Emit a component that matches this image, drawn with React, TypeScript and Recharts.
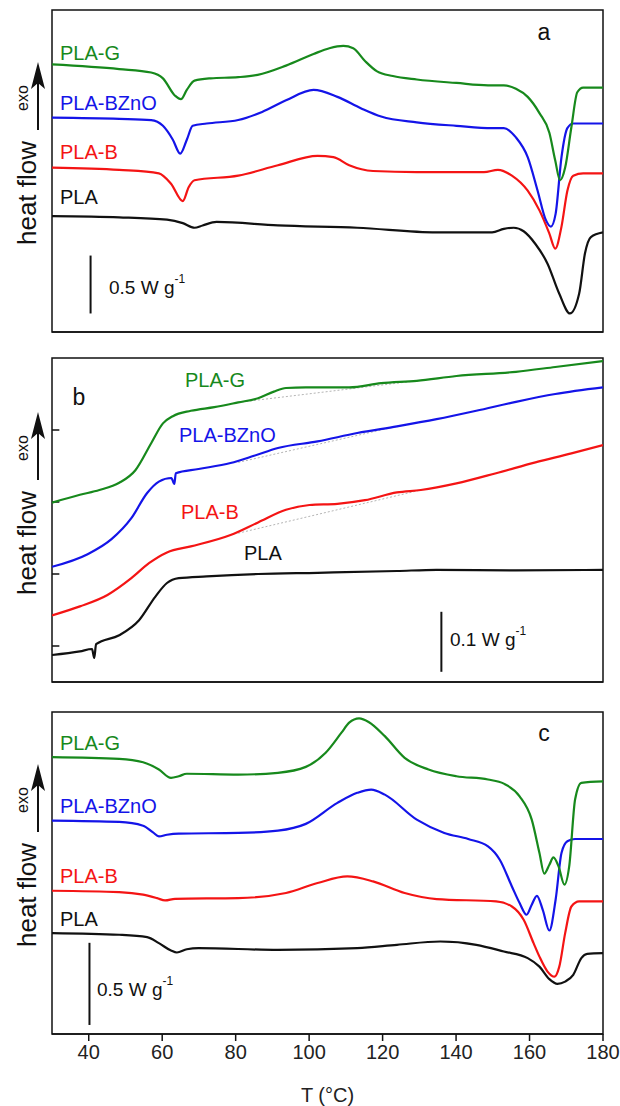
import React from "react";
import { LineChart, Line, XAxis, YAxis, ReferenceArea, ReferenceLine } from "recharts";

type Pt = [number, number];

const xTicks = [40, 60, 80, 100, 120, 140, 160, 180];

// panel a — heat flow (W/g, curves shifted)
const aG: Pt[] = [[30,2.31],[48.3,2.27],[57,2.24],[60.2,2.19],[63.5,2.04],[65.1,2.01],[66.7,2.09],[68.8,2.17],[73.2,2.19],[80.7,2.20],[86,2.22],[93.7,2.30],[101.2,2.40],[105.5,2.45],[109.3,2.47],[112,2.45],[115.2,2.34],[118.5,2.25],[122.8,2.21],[129.3,2.18],[140.1,2.15],[148.7,2.13],[153,2.13],[156.3,2.10],[159.5,2.03],[162.7,1.89],[165.4,1.72],[167,1.48],[168.3,1.31],[169.7,1.42],[171.4,1.77],[173,2.07],[174.6,2.11],[180,2.11]];
const aB: Pt[] = [[30,1.85],[48.3,1.84],[57,1.83],[60.2,1.78],[62.9,1.66],[64.9,1.54],[66.7,1.66],[68.3,1.78],[72.1,1.80],[80.7,1.83],[87.2,1.90],[93.7,2.00],[101.2,2.09],[107.7,2.03],[114.2,1.93],[119.6,1.86],[129.3,1.81],[140.1,1.78],[149.8,1.76],[153,1.76],[156.3,1.68],[159.5,1.51],[162.2,1.22],[164.4,0.97],[165.8,0.91],[167.1,1.02],[168.7,1.51],[170.3,1.76],[171.9,1.80],[180,1.80]];
const aR: Pt[] = [[30,1.42],[48.3,1.40],[59.1,1.37],[62.4,1.28],[65.6,1.13],[67.2,1.25],[68.8,1.31],[80.7,1.35],[91.5,1.44],[102.3,1.52],[106.6,1.51],[110.9,1.44],[117.4,1.39],[129.3,1.38],[147.6,1.38],[151.4,1.40],[155.2,1.35],[159.5,1.22],[162.7,1.05],[165.4,0.85],[167,0.72],[168.7,0.91],[170.3,1.22],[171.9,1.35],[174.6,1.37],[180,1.37]];
const aK: Pt[] = [[30,1.00],[48.3,0.99],[61.3,0.97],[65.6,0.94],[68.8,0.90],[71,0.92],[74.8,0.95],[91.5,0.92],[113.1,0.90],[134.7,0.86],[149.8,0.86],[153,0.89],[155.7,0.90],[158.4,0.87],[161.6,0.76],[164.9,0.59],[168.1,0.33],[171,0.16],[173.5,0.33],[175.1,0.68],[176.7,0.82],[180,0.86]];

// panel b — glass transition region
const bG: Pt[] = [[30,0.299],[37.6,0.312],[42.9,0.320],[48.3,0.332],[52.7,0.353],[57,0.398],[60.2,0.431],[62.9,0.443],[67.8,0.452],[74.2,0.458],[80.7,0.466],[86.1,0.473],[90.4,0.484],[93.7,0.490],[99.1,0.491],[110.9,0.491],[119.6,0.498],[129.3,0.502],[140.1,0.510],[156.3,0.517],[167,0.525],[180,0.535]];
const bB: Pt[] = [[30,0.192],[39.7,0.213],[46.2,0.238],[51.6,0.273],[55.9,0.315],[59.1,0.334],[62.5,0.340],[63.3,0.330],[63.7,0.348],[69.9,0.355],[78.6,0.365],[85,0.377],[91.5,0.390],[102.3,0.401],[113.1,0.415],[123.9,0.426],[134.7,0.438],[145.5,0.452],[156.3,0.467],[167,0.480],[180,0.491]];
const bR: Pt[] = [[30,0.111],[37.6,0.126],[45.1,0.145],[51.6,0.173],[56.4,0.198],[61.3,0.216],[67.8,0.226],[78.6,0.245],[86.1,0.266],[93.7,0.287],[100.1,0.295],[107.7,0.297],[115.2,0.303],[123.9,0.316],[130.4,0.320],[140.1,0.331],[150.9,0.348],[161.6,0.366],[171.4,0.381],[180,0.395]];
const bK: Pt[] = [[30,0.045],[37.6,0.051],[40.9,0.055],[41.5,0.040],[42,0.063],[48.3,0.078],[53.7,0.103],[58.1,0.142],[61.3,0.165],[64.5,0.173],[72.1,0.176],[86.1,0.180],[102.3,0.182],[123.9,0.185],[134.7,0.187],[156.3,0.186],[180,0.187]];
const bGBase: Pt[] = [[80.7,0.466],[140.1,0.510]];
const bBBase: Pt[] = [[80.7,0.366],[123.9,0.426]];
const bRBase: Pt[] = [[80.7,0.248],[130.4,0.320]];
const bYTicks = [0.06, 0.18, 0.30, 0.42];

// panel c
const cG: Pt[] = [[30,1.685],[48.3,1.675],[54.8,1.654],[59.1,1.610],[62.4,1.559],[64.5,1.569],[66.7,1.584],[80.7,1.579],[91.5,1.590],[99.1,1.626],[104.5,1.712],[108.8,1.834],[110.9,1.895],[113.6,1.921],[116.3,1.898],[120.6,1.813],[126,1.681],[132.5,1.610],[140.1,1.569],[148.7,1.549],[153,1.524],[157.3,1.447],[160.6,1.305],[162.7,1.102],[164,0.976],[165.4,1.030],[166.5,1.075],[167.9,1.020],[169.5,0.909],[170.8,1.020],[172.4,1.427],[174.1,1.529],[180,1.538]];
const cB: Pt[] = [[30,1.299],[48.3,1.291],[54.8,1.268],[57.5,1.227],[59.1,1.203],[61.3,1.213],[64.5,1.220],[80.7,1.224],[91.5,1.238],[99.1,1.279],[107.7,1.407],[113.1,1.468],[116.9,1.488],[120.6,1.457],[129.3,1.305],[136.8,1.224],[143.3,1.187],[148.7,1.142],[151.9,1.061],[155.2,0.898],[157.3,0.797],[159.2,0.726],[160.6,0.787],[162,0.841],[163.6,0.756],[165.4,0.630],[167.1,0.817],[168.7,1.102],[170.3,1.173],[172.4,1.187],[180,1.187]];
const cR: Pt[] = [[30,0.872],[48.3,0.864],[54.8,0.848],[58.6,0.827],[60.8,0.813],[63.5,0.823],[80.7,0.827],[93.7,0.858],[102.3,0.919],[110.4,0.959],[117.4,0.929],[126,0.858],[134.7,0.821],[150.9,0.807],[155.2,0.776],[158.4,0.695],[161.1,0.553],[162.7,0.471],[164.9,0.380],[166.8,0.349],[168.1,0.410],[169.7,0.614],[171.4,0.776],[173.5,0.807],[180,0.807]];
const cK: Pt[] = [[30,0.614],[48.3,0.604],[55.9,0.590],[59.1,0.553],[62.4,0.508],[64,0.496],[66.7,0.516],[69.9,0.523],[91.5,0.512],[113.1,0.523],[123.9,0.543],[135.7,0.563],[145.5,0.543],[153,0.502],[159.5,0.462],[162.7,0.410],[165.4,0.334],[167.6,0.305],[169.7,0.319],[171.9,0.360],[174.1,0.462],[175.7,0.488],[180,0.492]];

const GREEN = "#17891c";
const BLUE = "#1414e8";
const RED = "#f41414";
const BLACK = "#111111";
const FONT = "'Liberation Sans', Arial, sans-serif";

const toData = (pts: Pt[]) => pts.map(([t, hf]) => ({ t, hf }));

interface PanelProps {
  top: number;
  height: number;
  margin: { top: number; right: number; bottom: number; left: number };
  yMax: number;
  curves: { pts: Pt[]; color: string }[];
  baselines?: Pt[][];
  yTicks?: number[];
  bar: { t: number; y0: number; y1: number };
  bottomAxis?: boolean;
}

function Panel({ top, height, margin, yMax, curves, baselines = [], yTicks = [], bar, bottomAxis }: PanelProps) {
  return (
    <div style={{ position: "absolute", left: 0, top }}>
      <LineChart width={620} height={height} margin={margin}>
        <XAxis
          type="number"
          dataKey="t"
          domain={[30, 180]}
          ticks={xTicks}
          allowDataOverflow
          height={bottomAxis ? 70 : 10}
          tickSize={7}
          tickMargin={4}
          tick={bottomAxis ? { fill: "#222", fontSize: 20, fontFamily: FONT } : false}
          axisLine={{ stroke: BLACK, strokeWidth: 1.5 }}
          tickLine={{ stroke: BLACK, strokeWidth: 1.5 }}
          label={bottomAxis ? { value: "T (°C)", position: "insideBottom", offset: 2, fill: "#222", fontSize: 20, fontFamily: FONT } : undefined}
        />
        <YAxis
          type="number"
          domain={[0, yMax]}
          allowDataOverflow
          width={0}
          tick={false}
          tickLine={false}
          axisLine={{ stroke: BLACK, strokeWidth: 1.5 }}
        />
        <ReferenceArea x1={30} x2={180} y1={0} y2={yMax} fill="none" stroke={BLACK} strokeWidth={1.5} />
        {/* inward tick marks on the left frame */}
        {yTicks.map((v) => (
          <ReferenceLine key={"t" + v} segment={[{ x: 30, y: v }, { x: 32, y: v }]} stroke={BLACK} strokeWidth={1.5} />
        ))}
        {baselines.map((b, i) => (
          <Line key={"b" + i} data={toData(b)} dataKey="hf" type="linear" stroke="#b5b5b5" strokeWidth={1} strokeDasharray="2 2" dot={false} isAnimationActive={false} />
        ))}
        {curves.map((c, i) => (
          <Line key={i} data={toData(c.pts)} dataKey="hf" type="monotone" stroke={c.color} strokeWidth={2.2} dot={false} isAnimationActive={false} />
        ))}
        <ReferenceLine segment={[{ x: bar.t, y: bar.y0 }, { x: bar.t, y: bar.y1 }]} stroke={BLACK} strokeWidth={2} />
      </LineChart>
    </div>
  );
}

function YLabel({ cy }: { cy: number }) {
  // arrow tip sits 78px above the top of "heat flow"
  const hfTop = cy - 53;
  const tip = hfTop - 78;
  return (
    <g>
      <text x={27} y={cy} transform={`rotate(-90 27 ${cy})`} textAnchor="middle" dominantBaseline="central" fontSize={26} fill="#111">heat flow</text>
      <line x1={38} y1={hfTop - 10} x2={38} y2={tip + 18} stroke="#111" strokeWidth={2} />
      <path d={`M38 ${tip} L45 ${tip + 27} L38 ${tip + 21} L31 ${tip + 27} Z`} fill="#111" />
      <text x={22} y={tip + 36} transform={`rotate(-90 22 ${tip + 36})`} textAnchor="middle" dominantBaseline="central" fontSize={16} fill="#111">exo</text>
    </g>
  );
}

function Lbl({ x, y, c, s }: { x: number; y: number; c: string; s: string }) {
  return <text x={x} y={y} fill={c} fontSize={20} dominantBaseline="central">{s}</text>;
}

function Unit({ x, y, v }: { x: number; y: number; v: string }) {
  return (
    <text x={x} y={y} fontSize={19} fill="#111" dominantBaseline="central">
      {v} W g<tspan dy={-8} fontSize={12}>-1</tspan>
    </text>
  );
}

export default function App() {
  return (
    <div style={{ position: "absolute", left: 0, top: 0, width: 620, height: 1106, background: "#fff", fontFamily: FONT }}>
      <Panel
        top={0}
        height={345}
        margin={{ top: 10, right: 17, bottom: 3, left: 52 }}
        yMax={2.78}
        curves={[{ pts: aK, color: BLACK }, { pts: aR, color: RED }, { pts: aB, color: BLUE }, { pts: aG, color: GREEN }]}
        bar={{ t: 40.5, y0: 0.16, y1: 0.66 }}
      />
      <Panel
        top={348}
        height={345}
        margin={{ top: 10, right: 17, bottom: 1, left: 52 }}
        yMax={0.54}
        curves={[{ pts: bK, color: BLACK }, { pts: bR, color: RED }, { pts: bB, color: BLUE }, { pts: bG, color: GREEN }]}
        baselines={[bGBase, bBBase, bRBase]}
        yTicks={bYTicks}
        bar={{ t: 136, y0: 0.017, y1: 0.117 }}
      />
      <Panel
        top={700}
        height={406}
        margin={{ top: 12, right: 17, bottom: 2, left: 52 }}
        yMax={1.96}
        curves={[{ pts: cK, color: BLACK }, { pts: cR, color: RED }, { pts: cB, color: BLUE }, { pts: cG, color: GREEN }]}
        bar={{ t: 40.2, y0: 0.055, y1: 0.555 }}
        bottomAxis
      />
      <svg width={620} height={1106} style={{ position: "absolute", left: 0, top: 0, pointerEvents: "none", fontFamily: FONT }}>
        <YLabel cy={193} />
        <YLabel cy={543} />
        <YLabel cy={895} />

        <text x={544} y={32} fontSize={23} fill="#111" textAnchor="middle" dominantBaseline="central">a</text>
        <Lbl x={60} y={53} c={GREEN} s="PLA-G" />
        <Lbl x={60} y={103} c={BLUE} s="PLA-BZnO" />
        <Lbl x={60} y={152} c={RED} s="PLA-B" />
        <Lbl x={60} y={197} c={BLACK} s="PLA" />
        <Unit x={109} y={287} v="0.5" />

        <text x={79} y={397} fontSize={23} fill="#111" textAnchor="middle" dominantBaseline="central">b</text>
        <Lbl x={185} y={380} c={GREEN} s="PLA-G" />
        <Lbl x={179} y={435} c={BLUE} s="PLA-BZnO" />
        <Lbl x={181} y={512} c={RED} s="PLA-B" />
        <Lbl x={244} y={553} c={BLACK} s="PLA" />
        <Unit x={450} y={639} v="0.1" />

        <text x={544} y={733} fontSize={23} fill="#111" textAnchor="middle" dominantBaseline="central">c</text>
        <Lbl x={60} y={743} c={GREEN} s="PLA-G" />
        <Lbl x={60} y={806} c={BLUE} s="PLA-BZnO" />
        <Lbl x={60} y={876} c={RED} s="PLA-B" />
        <Lbl x={60} y={919} c={BLACK} s="PLA" />
        <Unit x={97} y={989} v="0.5" />
      </svg>
    </div>
  );
}
